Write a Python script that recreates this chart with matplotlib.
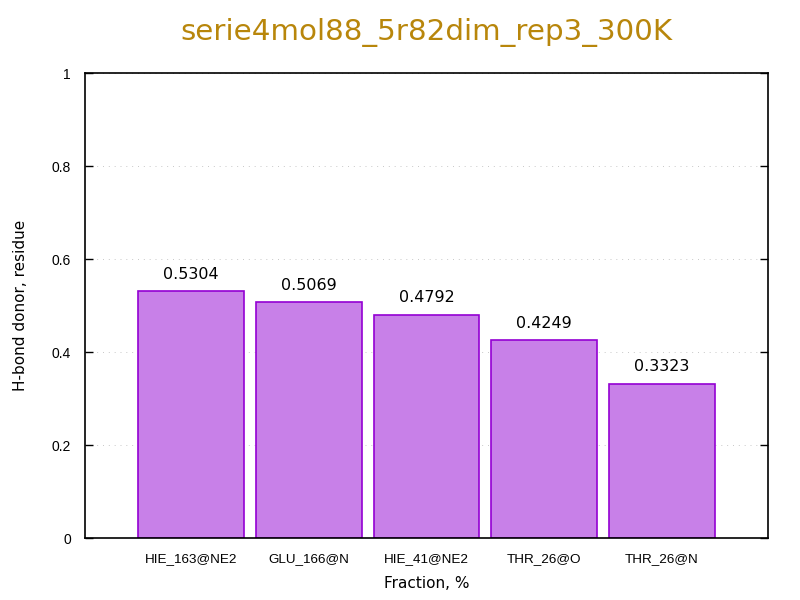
import matplotlib.pyplot as plt
import numpy as np

residues = ["HIE_163@NE2", "GLU_166@N", "HIE_41@NE2", "THR_26@O", "THR_26@N"]
fractions = [0.5304, 0.5069, 0.4792, 0.4249, 0.3323]
yticks = [0, 0.2, 0.4, 0.6, 0.8, 1]
ytick_labels = ["0", "0.2", "0.4", "0.6", "0.8", "1"]

fig = plt.figure(figsize=(8, 6), dpi=100)
ax = fig.add_axes([0.10625, 0.1033, 0.85375, 0.775])

x = np.arange(len(residues))
ax.bar(x, fractions, width=0.9, color="#c880e8", edgecolor="#9400d3", linewidth=1.2, zorder=2)

for xi, v in zip(x, fractions):
    ax.annotate(f"{v:.4f}", (xi, v), xytext=(0, 7), textcoords="offset points",
                ha="center", va="bottom", fontsize=11.5, family="DejaVu Sans")

ax.set_xlim(-0.9, 4.9)
ax.set_ylim(0, 1)
ax.set_xticks(x)
ax.set_xticklabels(residues, family="Liberation Sans", fontsize=9.7)
ax.set_yticks(yticks)
ax.set_yticklabels(ytick_labels, family="Liberation Sans", fontsize=10)
ax.tick_params(axis="x", length=0, pad=11)
ax.tick_params(axis="y", direction="in", length=6, width=1, right=True, pad=10)

ax.grid(axis="y", linestyle=(0, (1, 5)), color="#c8c8c8", linewidth=0.7, zorder=0)
ax.set_axisbelow(True)
for s in ax.spines.values():
    s.set_linewidth(1.2)

ax.set_xlabel("Fraction, %", fontsize=11, labelpad=8)
ax.set_ylabel("H-bond donor, residue", fontsize=11, labelpad=17)
ax.set_title("serie4mol88_5r82dim_rep3_300K", fontsize=21.2, color="#b8860b", pad=24)

fig.savefig("out.png", dpi=100)
